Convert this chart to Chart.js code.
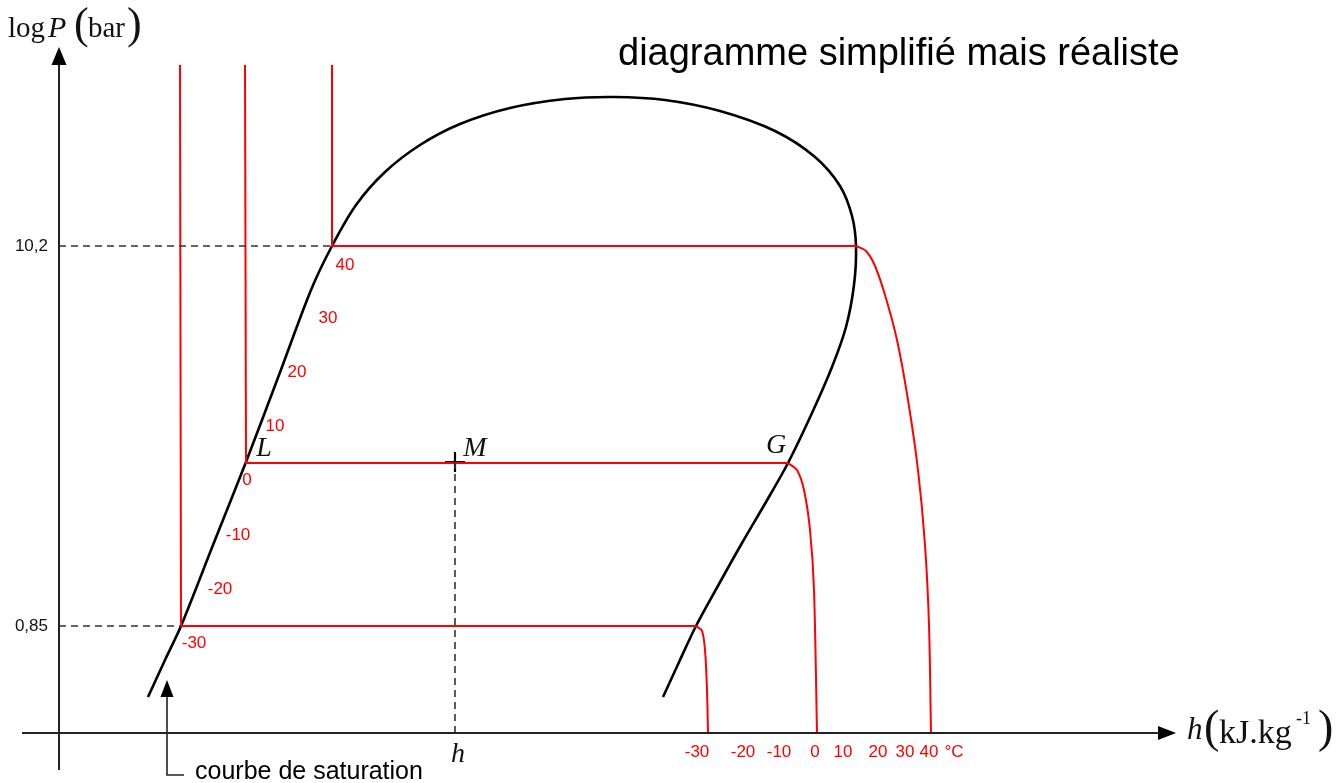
<!DOCTYPE html>
<html lang="fr">
<head>
<meta charset="UTF-8">
<title>Diagramme enthalpique simplifié</title>
<script src="https://cdn.jsdelivr.net/npm/chart.js@4.4.0/dist/chart.umd.min.js"></script>
<style>
  html, body { margin: 0; padding: 0; background: #fff; }
  #wrap { width: 1338px; height: 783px; }
</style>
</head>
<body>
<div id="wrap"><canvas id="diag"></canvas></div>
<script>
// Repère du schéma : h en abscisse, position verticale comptée vers le bas (axe y inversé)

// courbe de saturation (liquide à gauche, vapeur à droite)
const courbeSaturation = [
  [148,697],[165,660],[181,626],[213,545],[246,462],[279,375],[311,290],[332,246],
  [356,205],[385,172],[420,145],[460,124],[510,108],[565,99],[614,97],[665,100],
  [720,111],[775,131],[815,157],[840,186],[852,216],[856,246],[854,285],[846,327],
  [832,367],[812,413],[788,463],[766,502],[742,543],[719,584],[696,626],[680,660],[663,697]
];

// isobares / paliers (verticale liquide + palier de changement d'état)
const palier40  = [[332,65],[332,246],[856,246]];
const palier0   = [[245,65],[246,463],[788,463]];
const palierM30 = [[180,65],[181,626],[696,626]];

// isothermes dans la vapeur sèche
const iso40  = [[856,246],[866,251],[875,266],[885,295],[897,340],[908,400],[918,470],[925,545],[929,625],[931,733]];
const iso0   = [[788,463],[797,470],[804,490],[810,530],[814,590],[817,733]];
const isoM30 = [[696,626],[702,631],[705,650],[707,690],[708,733]];

// repères en pointillés
const tirets = [
  [[59,246],[332,246]],
  [[59,626],[181,626]],
  [[455,462],[455,733]]
];

// axes
const axeH = [[22,733],[1160,733]];
const axeP = [[59,770],[59,64]];
const flecheSat = [[184,775],[167,775],[167,696]];
const pointM = [[455,462]];

// graduations de pression
const pressions = ['10,2', '0,85'];
const pressionsY = [246, 626];

// températures de saturation le long de la courbe
const tempSat  = ['40', '30', '20', '10', '0', '-10', '-20', '-30'];
const tempSatX = [345, 328, 297, 275, 247, 238, 220, 194];
const tempSatY = [265, 318, 372, 426, 480, 535, 589, 643];

// températures sous l'axe h
const tempAxe  = ['-30', '-20', '-10', '0', '10', '20', '30', '40', '°C'];
const tempAxeX = [697, 743, 779, 815, 843, 878, 905, 929, 954];

const ROUGE = '#ff0000';
const pts = a => a.map(p => ({ x: p[0], y: p[1] }));

function trait(data, couleur, largeur, extra) {
  return Object.assign({
    data: pts(data), showLine: true, borderColor: couleur, borderWidth: largeur,
    pointRadius: 0, fill: false, tension: 0
  }, extra || {});
}

const datasets = [
  trait(axeH, '#222', 2),
  trait(axeP, '#222', 2),
  trait(flecheSat, '#222', 1.6),
  ...tirets.map(t => trait(t, '#333', 1.6, { borderDash: [7, 5] })),
  trait(palier40, ROUGE, 2),
  trait(palier0, ROUGE, 2),
  trait(palierM30, ROUGE, 2),
  trait(iso40, ROUGE, 2, { tension: 0.3 }),
  trait(iso0, ROUGE, 2, { tension: 0.3 }),
  trait(isoM30, ROUGE, 2, { tension: 0.3 }),
  trait(courbeSaturation, '#000', 2.6, { tension: 0.3 }),
  { data: pts(pointM), showLine: false, pointStyle: 'cross', pointRadius: 10,
    borderColor: '#000', borderWidth: 2.2 }
];

// textes et pointes de flèches
const habillage = {
  id: 'habillage',
  afterDatasetsDraw(chart) {
    const ctx = chart.ctx;
    const X = v => chart.scales.x.getPixelForValue(v);
    const Y = v => chart.scales.y.getPixelForValue(v);

    function pointe(tx, ty, dir, long, larg) {
      ctx.save();
      ctx.fillStyle = '#000';
      ctx.beginPath();
      if (dir === 'haut') {
        ctx.moveTo(X(tx), Y(ty));
        ctx.lineTo(X(tx) - larg / 2, Y(ty) + long);
        ctx.lineTo(X(tx) + larg / 2, Y(ty) + long);
      } else {
        ctx.moveTo(X(tx), Y(ty));
        ctx.lineTo(X(tx) - long, Y(ty) - larg / 2);
        ctx.lineTo(X(tx) - long, Y(ty) + larg / 2);
      }
      ctx.closePath();
      ctx.fill();
      ctx.restore();
    }
    pointe(59, 47, 'haut', 18, 15);
    pointe(1176, 733, 'droite', 18, 14);
    pointe(167, 680, 'haut', 17, 13);

    function texte(t, x, y, font, color, align) {
      ctx.save();
      ctx.font = font;
      ctx.fillStyle = color;
      ctx.textAlign = align || 'left';
      ctx.textBaseline = 'middle';
      ctx.fillText(t, X(x), Y(y));
      ctx.restore();
    }
    const SANS = '"Liberation Sans", Arial, sans-serif';
    const SERIF = '"Liberation Serif", "Times New Roman", serif';

    texte('diagramme simplifié mais réaliste', 618, 55, '38px ' + SANS, '#000');

    // log P (bar)
    texte('log', 8, 29, '29px ' + SERIF, '#111');
    texte('P', 48, 29, 'italic 30px ' + SERIF, '#111');
    texte('(', 74, 26, '44px ' + SERIF, '#111');
    texte('bar', 88, 29, '29px ' + SERIF, '#111');
    texte(')', 127, 26, '44px ' + SERIF, '#111');

    // h (kJ.kg-1)
    texte('h', 1187, 731, 'italic 31px ' + SERIF, '#111');
    texte('(', 1204, 730, '46px ' + SERIF, '#111');
    texte('kJ.kg', 1219, 734, '34px ' + SERIF, '#111');
    texte('-1', 1296, 719, '18px ' + SERIF, '#111');
    texte(')', 1318, 730, '46px ' + SERIF, '#111');

    pressions.forEach((p, i) => texte(p, 48, pressionsY[i], '17px ' + SANS, '#111', 'right'));

    tempSat.forEach((t, i) => texte(t, tempSatX[i], tempSatY[i], '17px ' + SANS, ROUGE, 'center'));
    tempAxe.forEach((t, i) => texte(t, tempAxeX[i], 752, '17px ' + SANS, ROUGE, 'center'));

    texte('L', 264, 449, 'italic 28px ' + SERIF, '#111', 'center');
    texte('M', 475, 449, 'italic 28px ' + SERIF, '#111', 'center');
    texte('G', 776, 446, 'italic 28px ' + SERIF, '#111', 'center');
    texte('h', 458, 755, 'italic 28px ' + SERIF, '#111', 'center');

    texte('courbe de saturation', 195, 772, '25px ' + SANS, '#000');
  }
};

new Chart(document.getElementById('diag'), {
  type: 'scatter',
  data: { datasets: datasets },
  options: {
    responsive: true,
    maintainAspectRatio: false,
    animation: false,
    events: [],
    layout: { padding: 0, autoPadding: false },
    scales: {
      x: { type: 'linear', min: 0, max: 1338, display: false },
      y: { type: 'linear', min: 0, max: 783, reverse: true, display: false }
    },
    plugins: { legend: { display: false }, tooltip: { enabled: false } }
  },
  plugins: [habillage]
});
</script>
</body>
</html>
